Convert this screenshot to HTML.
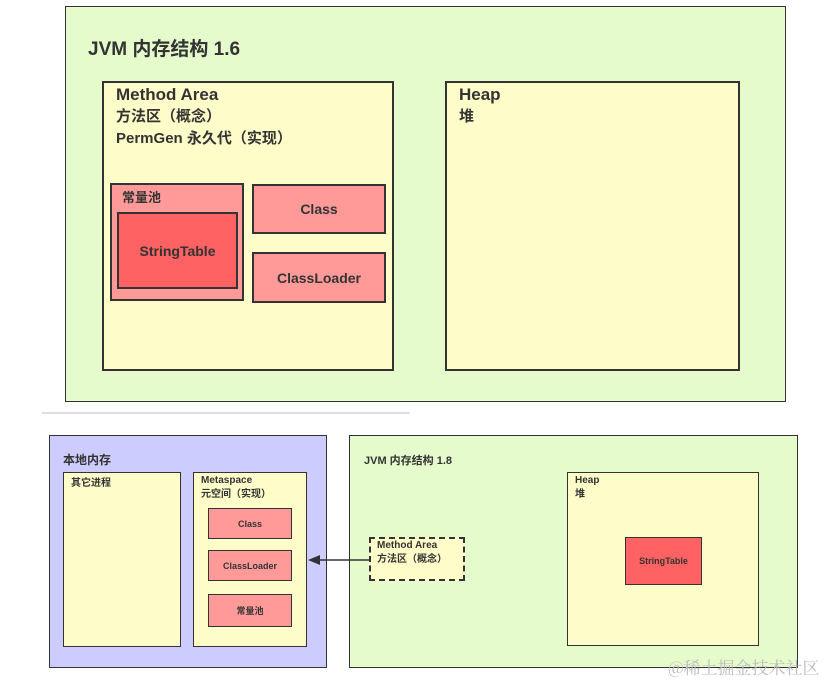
<!DOCTYPE html>
<html><head><meta charset="utf-8"><style>
body{margin:0;width:829px;height:682px;background:#fff;position:relative;overflow:hidden;font-family:"Liberation Sans","Noto Sans CJK SC",sans-serif;font-weight:bold;color:#333}
.b{position:absolute;box-sizing:border-box;border:2px solid #333}
.c{display:flex;align-items:center;justify-content:center}
.t{position:absolute;white-space:nowrap}
</style></head><body>
<div class="b" style="left:65px;top:6px;width:721px;height:396px;background:#e6fbcc;border-width:1px"></div>
<div class="t" style="left:88px;top:34px;font-size:19px">JVM 内存结构 1.6</div>
<div class="b" style="left:102px;top:81px;width:292px;height:290px;background:#fefdc9"></div>
<div class="t" style="left:116px;top:84px;font-size:17px;line-height:21px">Method Area<br><span style="font-size:15px">方法区（概念）<br>PermGen 永久代（实现）</span></div>
<div class="b" style="left:445px;top:81px;width:295px;height:290px;background:#fefdc9"></div>
<div class="t" style="left:459px;top:84px;font-size:17px;line-height:21px">Heap<br><span style="font-size:15px">堆</span></div>
<div class="b" style="left:110px;top:183px;width:134px;height:118px;background:#ff9a98"></div>
<div class="t" style="left:122px;top:187px;font-size:13px">常量池</div>
<div class="b c" style="left:117px;top:212px;width:121px;height:77px;background:#fe6262;font-size:14px">StringTable</div>
<div class="b c" style="left:252px;top:184px;width:134px;height:50px;background:#ff9a98;font-size:14px">Class</div>
<div class="b c" style="left:252px;top:252px;width:134px;height:51px;background:#ff9a98;font-size:14px">ClassLoader</div>
<div style="position:absolute;left:42px;top:412px;width:368px;height:2px;background:#ddd"></div>
<div class="b" style="left:49px;top:435px;width:278px;height:233px;background:#ccccfe;border-width:1px"></div>
<div class="t" style="left:63px;top:451px;font-size:12px">本地内存</div>
<div class="b" style="left:63px;top:472px;width:118px;height:175px;background:#fefdc9;border-width:1.5px"></div>
<div class="t" style="left:71px;top:474px;font-size:10px">其它进程</div>
<div class="b" style="left:193px;top:472px;width:114px;height:175px;background:#fefdc9;border-width:1.5px"></div>
<div class="t" style="left:201px;top:474px;font-size:10px;line-height:14px">Metaspace<br>元空间（实现）</div>
<div class="b c" style="left:208px;top:508px;width:84px;height:31px;background:#ff9a98;font-size:9px;border-width:1.5px">Class</div>
<div class="b c" style="left:208px;top:550px;width:84px;height:31px;background:#ff9a98;font-size:9px;border-width:1.5px">ClassLoader</div>
<div class="b c" style="left:208px;top:594px;width:84px;height:33px;background:#ff9a98;font-size:9px;border-width:1.5px">常量池</div>
<div class="b" style="left:349px;top:435px;width:449px;height:233px;background:#e6fbcc;border-width:1px"></div>
<div class="t" style="left:364px;top:452px;font-size:11px">JVM 内存结构 1.8</div>
<div class="b" style="left:369px;top:537px;width:96px;height:44px;background:#fefdc9;border:2px dashed #333"></div>
<div class="t" style="left:377px;top:539px;font-size:10px;line-height:14px">Method Area<br>方法区（概念）</div>
<div class="b" style="left:567px;top:472px;width:192px;height:174px;background:#fefdc9;border-width:1.5px"></div>
<div class="t" style="left:575px;top:474px;font-size:10px;line-height:14px">Heap<br>堆</div>
<div class="b c" style="left:625px;top:537px;width:77px;height:48px;background:#fe6262;font-size:9px;border-width:1.5px">StringTable</div>
<svg style="position:absolute;left:0;top:0" width="829" height="682"><line x1="369" y1="560" x2="318" y2="560" stroke="#333" stroke-width="1.5"/><polygon points="308,560 320,555 320,565" fill="#333"/></svg>
<div class="t" style="left:668px;top:654px;font-size:17px;font-weight:normal;color:#bbb;font-family:'Noto Serif CJK SC',serif">@稀土掘金技术社区</div>
</body></html>
